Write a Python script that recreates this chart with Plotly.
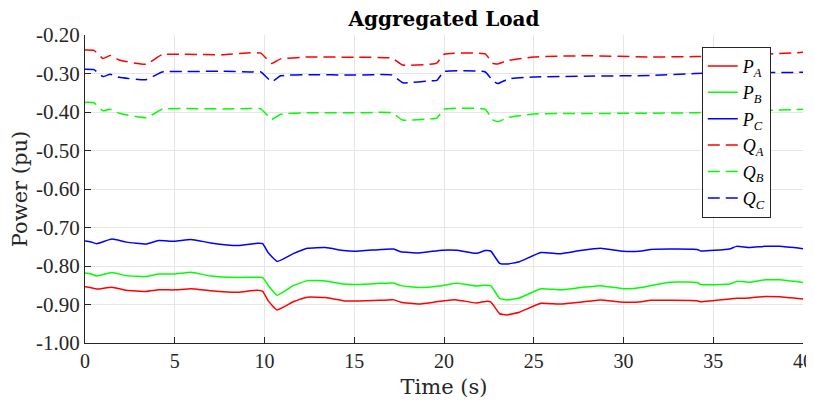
import plotly.graph_objects as go

# time samples (s)
t_p = [0, 0.3, 0.65, 1.5, 2.3, 3.4, 4.1, 5.0, 5.9, 7.0, 8.5, 9.6, 9.9, 10.2, 10.7, 11.6,
       12.4, 13.4, 14.4, 15.0, 16.5, 17.2, 17.6, 18.6, 19.9, 20.7, 21.8, 22.3, 22.6, 23.1,
       23.5, 24.2, 25.4, 26.5, 27.6, 28.7, 30.0, 31.0, 31.5, 32.6, 34.1, 34.3, 35.9, 36.3,
       37.0, 37.9, 38.7, 40.0]
t_q = [0, 0.5, 1.0, 1.4, 1.9, 3.4, 4.3, 5.5, 7.7, 9.2, 9.8, 10.4, 10.9, 12.5, 15.0, 17.1,
       17.7, 19.2, 19.6, 20.0, 22.3, 22.7, 23.0, 23.6, 25.0, 27.9, 31.6, 34.0, 37.0, 40.0]

p_a = [-0.854, -0.856, -0.860, -0.855, -0.863, -0.866, -0.862, -0.862, -0.859, -0.864,
       -0.868, -0.863, -0.866, -0.890, -0.914, -0.893, -0.881, -0.882, -0.890, -0.891,
       -0.889, -0.888, -0.894, -0.899, -0.891, -0.888, -0.896, -0.892, -0.893, -0.924,
       -0.927, -0.920, -0.897, -0.899, -0.894, -0.888, -0.894, -0.893, -0.889, -0.889,
       -0.890, -0.893, -0.886, -0.884, -0.883, -0.879, -0.880, -0.886]
p_b = [-0.818, -0.820, -0.826, -0.817, -0.825, -0.827, -0.821, -0.821, -0.816, -0.826,
       -0.830, -0.829, -0.830, -0.850, -0.876, -0.851, -0.838, -0.839, -0.847, -0.848,
       -0.845, -0.844, -0.851, -0.856, -0.851, -0.845, -0.852, -0.850, -0.851, -0.884,
       -0.888, -0.883, -0.859, -0.862, -0.856, -0.851, -0.859, -0.856, -0.851, -0.842,
       -0.843, -0.848, -0.847, -0.840, -0.842, -0.836, -0.836, -0.843]
p_c = [-0.735, -0.737, -0.742, -0.730, -0.738, -0.743, -0.734, -0.736, -0.731, -0.740,
       -0.747, -0.741, -0.742, -0.765, -0.788, -0.768, -0.754, -0.752, -0.760, -0.762,
       -0.757, -0.756, -0.763, -0.766, -0.759, -0.759, -0.767, -0.760, -0.761, -0.793,
       -0.795, -0.789, -0.765, -0.768, -0.760, -0.754, -0.762, -0.761, -0.757, -0.756,
       -0.757, -0.761, -0.756, -0.749, -0.752, -0.749, -0.749, -0.755]

q_a = [-0.239, -0.240, -0.261, -0.253, -0.265, -0.276, -0.251, -0.250, -0.251, -0.246,
       -0.247, -0.274, -0.262, -0.257, -0.258, -0.260, -0.278, -0.276, -0.273, -0.250,
       -0.249, -0.273, -0.275, -0.266, -0.257, -0.254, -0.257, -0.256, -0.252, -0.245]
q_b = [-0.375, -0.376, -0.397, -0.393, -0.403, -0.415, -0.393, -0.391, -0.392, -0.391,
       -0.392, -0.419, -0.406, -0.402, -0.402, -0.402, -0.421, -0.418, -0.416, -0.393,
       -0.393, -0.420, -0.425, -0.414, -0.405, -0.404, -0.403, -0.402, -0.397, -0.393]
q_c = [-0.289, -0.290, -0.308, -0.302, -0.310, -0.316, -0.296, -0.295, -0.294, -0.296,
       -0.296, -0.321, -0.306, -0.303, -0.304, -0.304, -0.324, -0.319, -0.318, -0.295,
       -0.296, -0.318, -0.326, -0.314, -0.309, -0.307, -0.305, -0.300, -0.298, -0.297]

x_ticks = [0, 5, 10, 15, 20, 25, 30, 35, 40]
y_ticks = [-1.0, -0.9, -0.8, -0.7, -0.6, -0.5, -0.4, -0.3, -0.2]
y_labels = ["-1.00", "-0.90", "-0.80", "-0.70", "-0.60", "-0.50", "-0.40", "-0.30", "-0.20"]

font = "Liberation Serif"
wide = "DejaVu Serif"

fig = go.Figure()
series = [
    (t_p, p_a, "<i>P</i><sub><i>A</i></sub>", "#ff0000", "solid"),
    (t_p, p_b, "<i>P</i><sub><i>B</i></sub>", "#00ff00", "solid"),
    (t_p, p_c, "<i>P</i><sub><i>C</i></sub>", "#0000ff", "solid"),
    (t_q, q_a, "<i>Q</i><sub><i>A</i></sub>", "#ff0000", "12px,6px"),
    (t_q, q_b, "<i>Q</i><sub><i>B</i></sub>", "#00ff00", "12px,6px"),
    (t_q, q_c, "<i>Q</i><sub><i>C</i></sub>", "#0000ff", "12px,6px"),
]
for t, y, name, col, dash in series:
    fig.add_trace(go.Scatter(x=t, y=y, name=name, mode="lines",
                             line=dict(color=col, width=1.5, dash=dash, shape="spline", smoothing=0.4)))

# page body adds an 8px offset, keep the figure inside the window
fig.update_layout(
    width=806, height=391,
    margin=dict(l=77, r=11, t=27, b=56, autoexpand=False),
    plot_bgcolor="white", paper_bgcolor="white",
    font=dict(family=font, size=17, color="#262626"),
    title=dict(text="<b>Aggregated Load</b>", x=0.541, xanchor="center", y=0.99, yanchor="top",
               pad=dict(t=0), font=dict(family=wide, size=20, color="black")),
    legend=dict(x=0.859, y=0.962, xanchor="left", yanchor="top",
                bgcolor="white", bordercolor="#262626", borderwidth=1,
                font=dict(family=font, size=18, color="black"),
                tracegroupgap=0, itemwidth=30),
)
fig.update_xaxes(range=[0, 40], tickvals=x_ticks, showgrid=True, gridcolor="#e6e6e6",
                 showline=True, linecolor="#262626", linewidth=1, ticks="inside", ticklen=6,
                 tickcolor="#262626", zeroline=False, automargin=False, ticklabeloverflow="allow",
                 title=dict(text="Time (s)", font=dict(family=wide, size=21), standoff=10),
                 tickfont=dict(size=20))
fig.update_yaxes(range=[-1.0, -0.2], tickvals=y_ticks, ticktext=y_labels, showgrid=True,
                 gridcolor="#e6e6e6", showline=True, linecolor="#262626", linewidth=1,
                 ticks="inside", ticklen=6, tickcolor="#262626", zeroline=False, automargin=False,
                 title=dict(text="Power (pu)", font=dict(family=wide, size=21), standoff=5),
                 tickfont=dict(size=21))

fig.write_html("out.html")
